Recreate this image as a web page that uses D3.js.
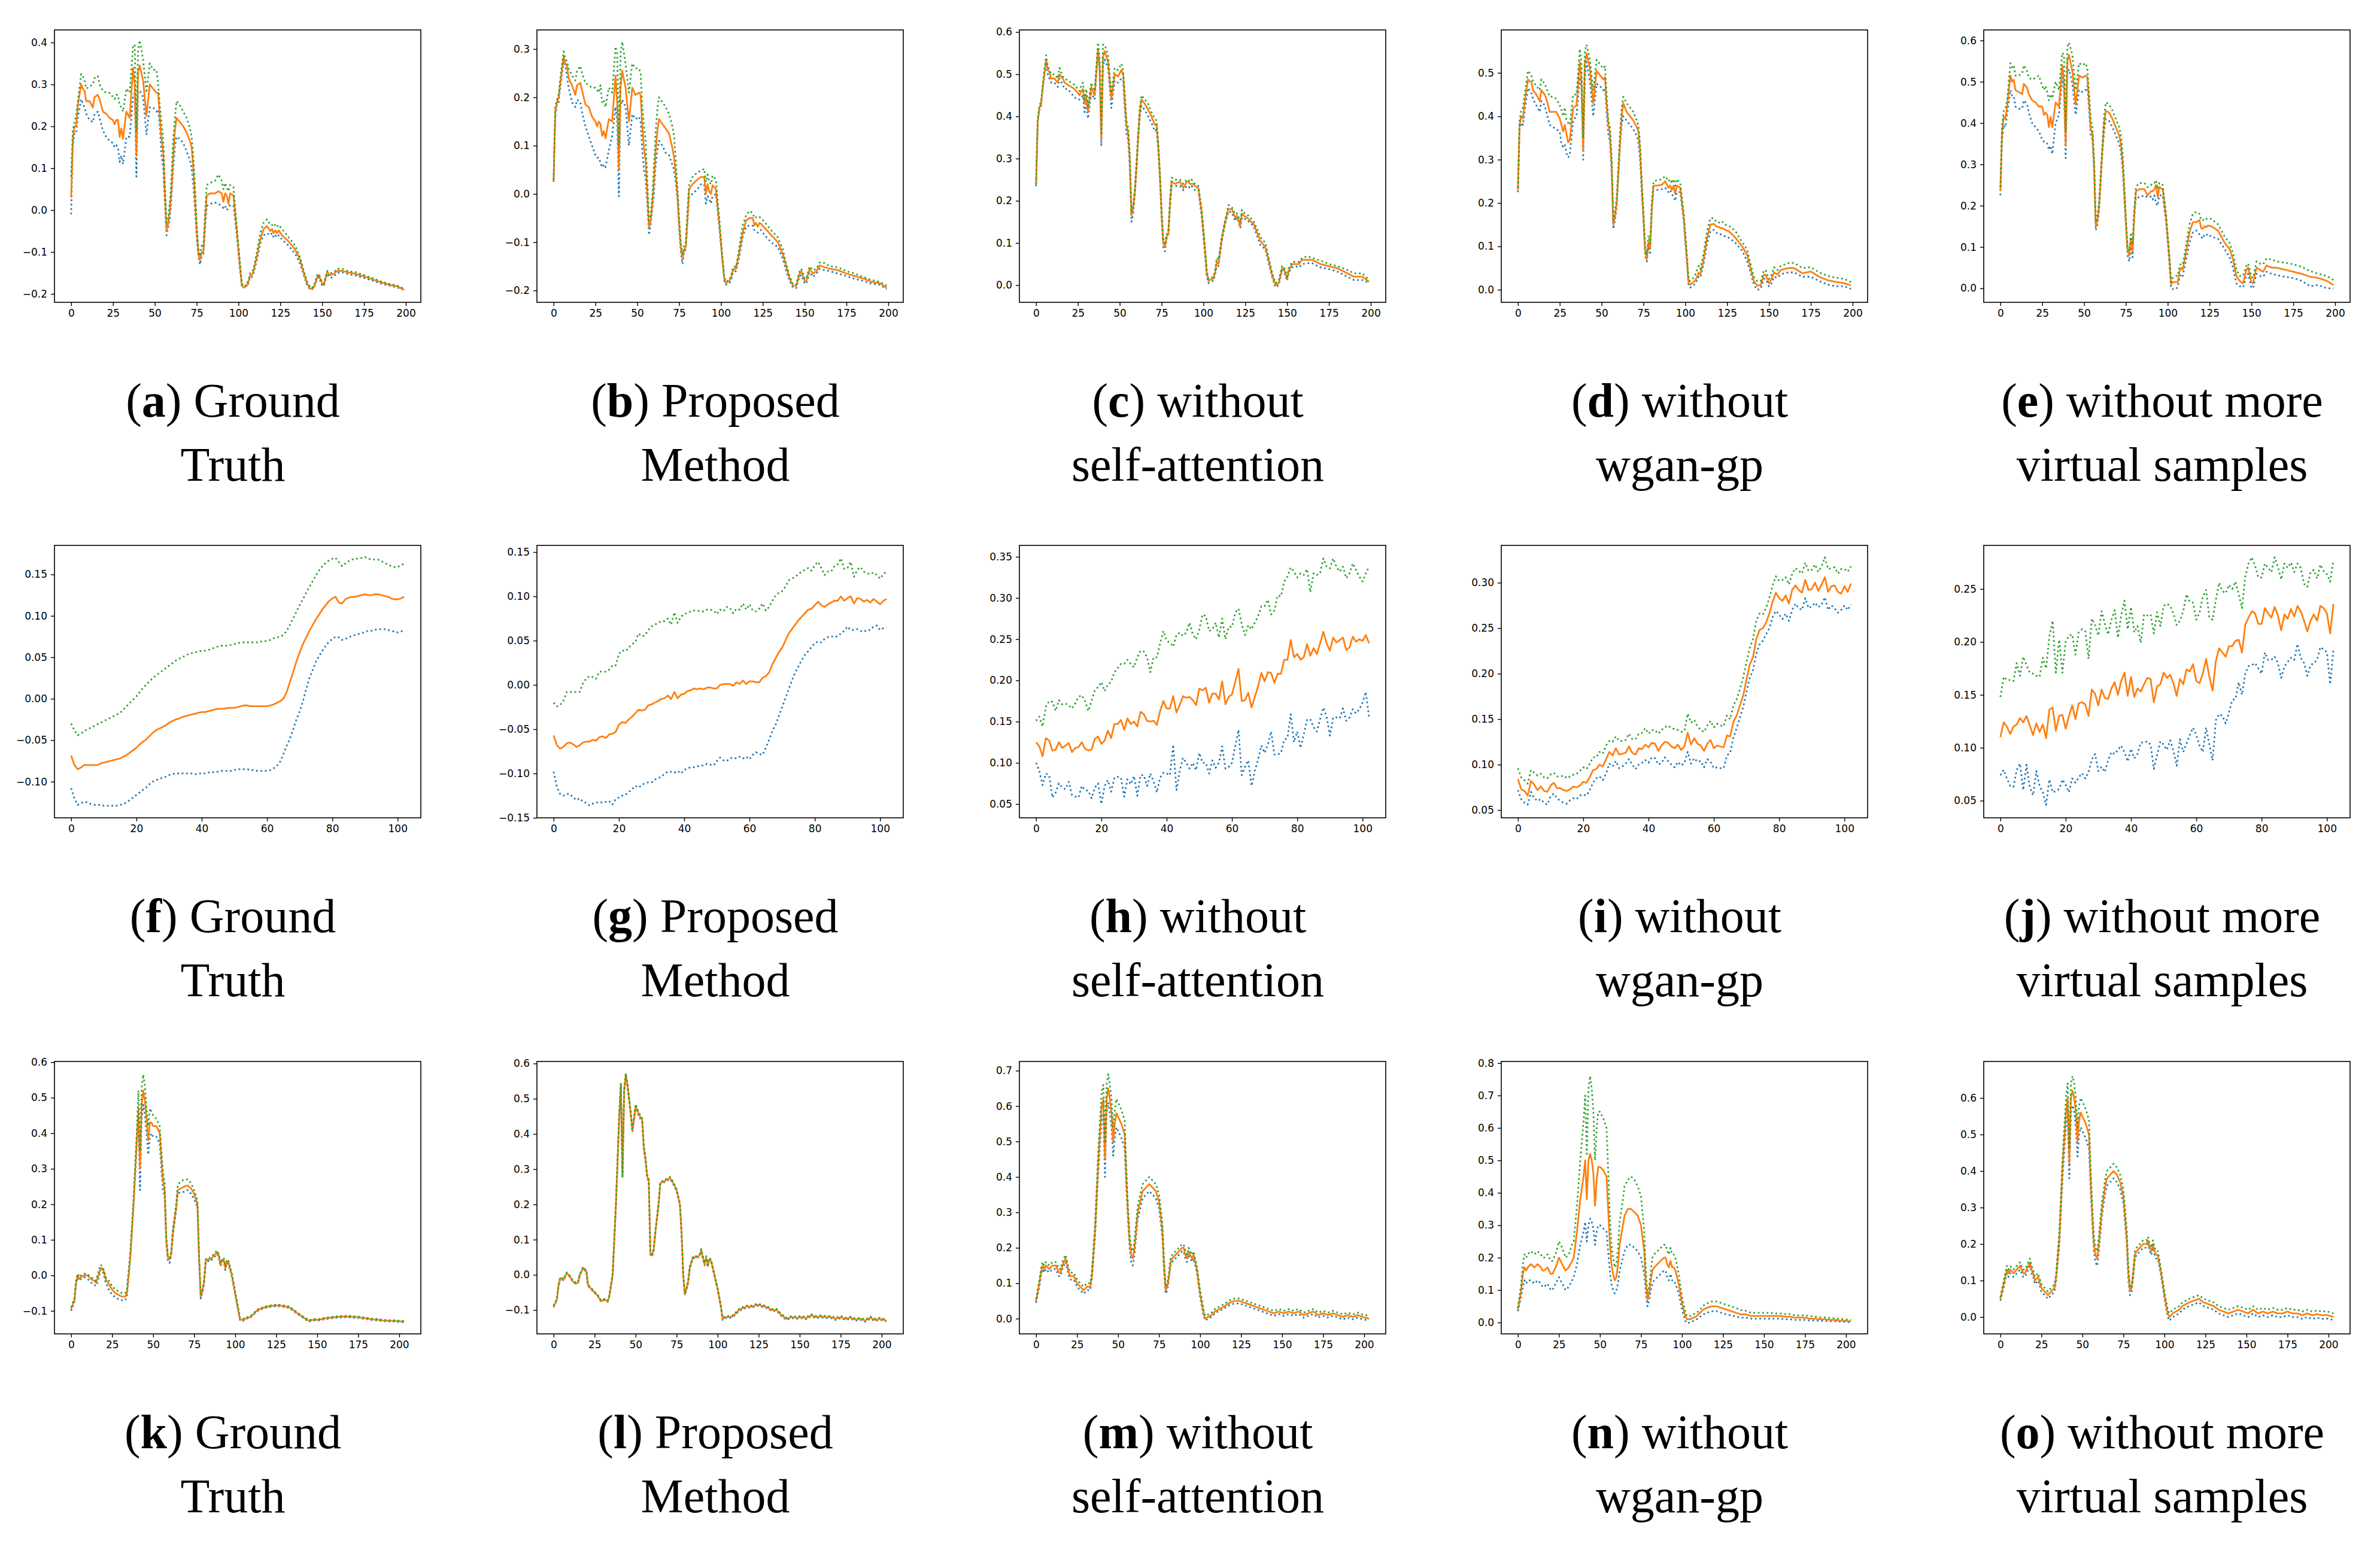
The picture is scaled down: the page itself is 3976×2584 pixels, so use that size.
<!DOCTYPE html>
<html>
<head>
<meta charset="utf-8">
<script src="https://cdn.jsdelivr.net/npm/d3@7"></script>
<style>
  body { margin: 0; background: #fff; }
  svg text { fill: #000; }
</style>
</head>
<body>
<svg id="fig"></svg>
<script>
// ---- x positions (sample indices) ----
const row1X = [0,1,2,3,4,6,7,8,9,11,
  13,14,16,17,19,21,23,25,26,27,
  28,29,30,31,33,35,37,38,39,40,
  41,43,45,47,49,51,52,53,54,55,
  56,57,58,59,60,61,62,63,65,67,
  69,71,72,73,74,75,76,77,78,79,
  80,81,83,86,88,90,91,92,93,94,
  95,97,99,101,102,103,105,106,107,108,
  109,111,113,115,117,119,120,121,122,123,
  124,126,130,134,137,139,141,143,145,147,
  148,150,151,153,155,157,159,162,165,170,
  175,180,185,190,195,199]
const row2X = d3.range(0, 103)
const row3X = [0,2,3,4,5,6,8,10,12,14,
  15,16,18,19,20,21,23,25,27,29,
  31,33,34,36,38,40,41,42,43,44,
  45,46,47,48,49,50,52,54,55,56,
  57,58,59,60,61,62,64,65,67,69,
  71,73,75,77,78,79,80,81,82,83,
  85,87,89,90,91,92,93,94,95,96,
  98,100,102,103,105,107,109,111,113,115,
  118,121,124,127,130,133,136,139,142,145,
  148,151,154,157,160,163,166,169,172,175,
  178,181,184,187,190,193,196,199,203]

// ---- row 1 ----
const aBlue = [-0.01,0.15,0.185,0.185,0.22,0.265,0.255,0.245,0.23,0.215,
  0.21,0.23,0.235,0.22,0.19,0.175,0.165,0.16,0.15,0.155,
  0.15,0.115,0.13,0.11,0.175,0.175,0.27,0.28,0.08,0.28,
  0.285,0.27,0.18,0.245,0.245,0.235,0.24,0.20,0.13,0.10,
  0.02,-0.06,-0.04,-0.02,0.03,0.10,0.15,0.175,0.17,0.16,
  0.14,0.12,0.10,0.06,0.0,-0.06,-0.11,-0.13,-0.11,-0.105,
  -0.05,0.01,0.015,0.018,0.015,0.01,0.005,0.01,0.0,0.005,
  0.012,0.01,-0.06,-0.145,-0.18,-0.185,-0.18,-0.175,-0.16,-0.16,
  -0.15,-0.12,-0.08,-0.06,-0.055,-0.06,-0.055,-0.065,-0.06,-0.065,
  -0.06,-0.07,-0.085,-0.105,-0.13,-0.155,-0.18,-0.19,-0.187,-0.165,
  -0.16,-0.18,-0.182,-0.152,-0.162,-0.158,-0.15,-0.148,-0.152,-0.156,
  -0.162,-0.168,-0.175,-0.18,-0.185,-0.19]
const aOrange = [0.03,0.17,0.20,0.20,0.25,0.30,0.29,0.285,0.26,0.26,
  0.245,0.27,0.275,0.265,0.235,0.23,0.22,0.215,0.205,0.215,
  0.215,0.175,0.195,0.17,0.235,0.22,0.34,0.30,0.13,0.33,
  0.345,0.31,0.225,0.30,0.29,0.28,0.28,0.22,0.17,0.14,
  0.04,-0.05,-0.03,0.0,0.05,0.13,0.19,0.22,0.21,0.20,
  0.185,0.165,0.15,0.10,0.03,-0.05,-0.10,-0.12,-0.10,-0.10,
  -0.03,0.035,0.04,0.04,0.045,0.04,0.02,0.04,0.035,0.015,
  0.04,0.035,-0.05,-0.14,-0.18,-0.185,-0.18,-0.17,-0.155,-0.155,
  -0.145,-0.11,-0.07,-0.045,-0.038,-0.05,-0.045,-0.055,-0.048,-0.055,
  -0.048,-0.06,-0.075,-0.095,-0.12,-0.15,-0.175,-0.188,-0.185,-0.16,
  -0.155,-0.175,-0.178,-0.148,-0.155,-0.152,-0.145,-0.145,-0.148,-0.152,
  -0.158,-0.165,-0.172,-0.178,-0.182,-0.19]
const aGreen = [0.08,0.19,0.21,0.225,0.26,0.325,0.32,0.31,0.29,0.295,
  0.30,0.315,0.32,0.30,0.285,0.28,0.28,0.27,0.265,0.275,
  0.275,0.25,0.245,0.235,0.29,0.28,0.39,0.395,0.19,0.38,
  0.405,0.36,0.28,0.35,0.335,0.335,0.30,0.25,0.21,0.17,
  0.07,-0.03,-0.02,0.02,0.08,0.17,0.22,0.26,0.25,0.235,
  0.22,0.195,0.175,0.13,0.06,-0.03,-0.09,-0.11,-0.085,-0.09,
  -0.01,0.06,0.065,0.07,0.085,0.07,0.05,0.065,0.055,0.045,
  0.06,0.055,-0.04,-0.13,-0.175,-0.182,-0.178,-0.165,-0.15,-0.148,
  -0.14,-0.1,-0.055,-0.03,-0.022,-0.035,-0.035,-0.04,-0.035,-0.04,
  -0.035,-0.045,-0.065,-0.085,-0.115,-0.145,-0.17,-0.185,-0.183,-0.155,
  -0.152,-0.172,-0.175,-0.145,-0.15,-0.148,-0.14,-0.14,-0.145,-0.148,
  -0.155,-0.162,-0.17,-0.176,-0.18,-0.188]

const bBlue = [0.025,0.16,0.185,0.19,0.22,0.275,0.265,0.245,0.22,0.19,
  0.18,0.195,0.19,0.17,0.14,0.12,0.10,0.08,0.075,0.075,
  0.065,0.055,0.06,0.055,0.09,0.12,0.18,0.15,-0.005,0.18,
  0.195,0.18,0.10,0.165,0.155,0.16,0.15,0.09,0.05,0.03,
  -0.02,-0.085,-0.065,-0.03,0.0,0.06,0.09,0.11,0.10,0.085,
  0.08,0.06,0.05,0.02,-0.01,-0.07,-0.12,-0.145,-0.12,-0.115,
  -0.06,-0.005,0.0,0.01,0.02,0.02,-0.02,-0.005,-0.01,-0.02,
  -0.005,0.0,-0.07,-0.145,-0.18,-0.188,-0.185,-0.18,-0.165,-0.16,
  -0.16,-0.13,-0.09,-0.068,-0.065,-0.066,-0.075,-0.078,-0.08,-0.075,
  -0.075,-0.085,-0.1,-0.11,-0.135,-0.16,-0.18,-0.193,-0.195,-0.17,
  -0.168,-0.185,-0.186,-0.162,-0.172,-0.165,-0.155,-0.158,-0.16,-0.165,
  -0.17,-0.176,-0.18,-0.186,-0.188,-0.197]
const bOrange = [0.026,0.17,0.19,0.20,0.23,0.285,0.27,0.265,0.24,0.225,
  0.205,0.225,0.23,0.215,0.185,0.18,0.16,0.15,0.14,0.15,
  0.145,0.12,0.13,0.115,0.155,0.15,0.245,0.19,0.05,0.22,
  0.255,0.22,0.15,0.22,0.205,0.21,0.205,0.14,0.095,0.07,
  0.0,-0.07,-0.055,-0.02,0.03,0.09,0.13,0.155,0.145,0.135,
  0.125,0.095,0.075,0.04,0.0,-0.06,-0.11,-0.135,-0.115,-0.11,
  -0.05,0.01,0.02,0.03,0.035,0.035,0.0,0.02,0.005,0.0,
  0.018,0.01,-0.06,-0.14,-0.175,-0.185,-0.18,-0.175,-0.16,-0.155,
  -0.155,-0.12,-0.08,-0.055,-0.05,-0.05,-0.065,-0.06,-0.068,-0.06,
  -0.062,-0.07,-0.085,-0.1,-0.125,-0.15,-0.175,-0.19,-0.19,-0.165,
  -0.16,-0.18,-0.18,-0.155,-0.165,-0.16,-0.148,-0.152,-0.155,-0.158,
  -0.165,-0.17,-0.175,-0.182,-0.185,-0.195]
const bGreen = [0.03,0.18,0.195,0.205,0.24,0.295,0.28,0.275,0.26,0.245,
  0.235,0.255,0.265,0.25,0.23,0.225,0.22,0.22,0.215,0.21,
  0.225,0.19,0.195,0.18,0.22,0.21,0.305,0.29,0.10,0.29,
  0.315,0.27,0.21,0.27,0.26,0.26,0.25,0.18,0.14,0.11,
  0.03,-0.055,-0.045,-0.005,0.06,0.13,0.175,0.20,0.19,0.18,
  0.165,0.14,0.12,0.07,0.015,-0.05,-0.10,-0.125,-0.105,-0.1,
  -0.035,0.02,0.035,0.045,0.048,0.052,0.025,0.04,0.025,0.02,
  0.038,0.03,-0.05,-0.135,-0.172,-0.182,-0.178,-0.17,-0.155,-0.15,
  -0.152,-0.11,-0.065,-0.045,-0.035,-0.04,-0.05,-0.048,-0.05,-0.048,
  -0.05,-0.058,-0.075,-0.09,-0.115,-0.145,-0.17,-0.187,-0.188,-0.16,
  -0.155,-0.175,-0.176,-0.15,-0.158,-0.155,-0.142,-0.143,-0.15,-0.152,
  -0.16,-0.165,-0.172,-0.178,-0.182,-0.19]

const cBlue = [0.235,0.385,0.415,0.425,0.465,0.525,0.50,0.49,0.48,0.48,
  0.47,0.49,0.475,0.465,0.465,0.455,0.445,0.44,0.44,0.445,
  0.45,0.41,0.43,0.395,0.455,0.44,0.55,0.50,0.33,0.52,
  0.535,0.515,0.42,0.485,0.48,0.49,0.485,0.42,0.36,0.345,
  0.28,0.15,0.17,0.21,0.27,0.34,0.40,0.425,0.415,0.40,
  0.385,0.365,0.37,0.32,0.25,0.16,0.09,0.08,0.11,0.115,
  0.18,0.235,0.235,0.235,0.225,0.235,0.235,0.23,0.235,0.23,
  0.225,0.225,0.16,0.07,0.02,0.005,0.01,0.01,0.025,0.045,
  0.045,0.105,0.145,0.175,0.172,0.152,0.16,0.15,0.135,0.16,
  0.158,0.155,0.14,0.095,0.085,0.052,0.02,-0.005,0.0,0.035,
  0.035,0.01,0.03,0.042,0.045,0.042,0.05,0.052,0.052,0.042,
  0.038,0.032,0.022,0.012,0.012,0.005]
const cOrange = [0.24,0.39,0.42,0.43,0.47,0.535,0.51,0.505,0.49,0.49,
  0.48,0.50,0.49,0.48,0.475,0.47,0.465,0.455,0.45,0.46,
  0.465,0.43,0.45,0.41,0.47,0.45,0.56,0.52,0.345,0.54,
  0.555,0.53,0.44,0.50,0.495,0.51,0.50,0.44,0.38,0.36,
  0.30,0.165,0.18,0.22,0.28,0.35,0.41,0.44,0.43,0.415,
  0.40,0.38,0.38,0.33,0.26,0.17,0.10,0.09,0.115,0.12,
  0.19,0.245,0.24,0.245,0.23,0.245,0.245,0.24,0.24,0.24,
  0.235,0.23,0.17,0.08,0.03,0.01,0.015,0.015,0.03,0.055,
  0.05,0.11,0.15,0.18,0.18,0.16,0.165,0.155,0.14,0.17,
  0.165,0.16,0.145,0.105,0.09,0.06,0.025,0.0,0.005,0.04,
  0.04,0.015,0.035,0.05,0.05,0.05,0.06,0.06,0.06,0.05,
  0.045,0.04,0.03,0.02,0.02,0.008]
const cGreen = [0.24,0.395,0.425,0.435,0.475,0.545,0.52,0.51,0.50,0.50,
  0.49,0.515,0.495,0.49,0.485,0.48,0.475,0.465,0.46,0.475,
  0.48,0.44,0.465,0.425,0.48,0.46,0.575,0.535,0.36,0.57,
  0.57,0.545,0.455,0.515,0.51,0.525,0.51,0.455,0.39,0.375,
  0.31,0.175,0.19,0.23,0.29,0.36,0.42,0.45,0.44,0.43,
  0.41,0.395,0.39,0.34,0.27,0.18,0.11,0.10,0.12,0.125,
  0.2,0.255,0.25,0.25,0.24,0.25,0.25,0.245,0.25,0.245,
  0.24,0.235,0.18,0.09,0.035,0.015,0.018,0.02,0.035,0.065,
  0.06,0.115,0.155,0.19,0.185,0.168,0.17,0.162,0.148,0.178,
  0.172,0.168,0.152,0.115,0.1,0.065,0.03,0.005,0.01,0.045,
  0.045,0.02,0.04,0.055,0.055,0.055,0.065,0.068,0.065,0.058,
  0.05,0.045,0.038,0.028,0.028,0.012]

const dBlue = [0.225,0.37,0.385,0.38,0.41,0.465,0.46,0.455,0.44,0.425,
  0.41,0.435,0.425,0.41,0.38,0.375,0.37,0.365,0.335,0.33,
  0.335,0.315,0.305,0.31,0.39,0.40,0.49,0.46,0.30,0.49,
  0.525,0.48,0.40,0.475,0.47,0.46,0.465,0.41,0.36,0.34,
  0.27,0.14,0.16,0.19,0.26,0.33,0.38,0.40,0.39,0.38,
  0.37,0.355,0.34,0.30,0.22,0.16,0.08,0.065,0.1,0.085,
  0.18,0.23,0.23,0.232,0.235,0.225,0.23,0.22,0.215,0.205,
  0.225,0.225,0.16,0.06,0.01,0.005,0.01,0.015,0.022,0.03,
  0.028,0.06,0.105,0.135,0.138,0.13,0.128,0.128,0.126,0.125,
  0.122,0.12,0.108,0.09,0.065,0.04,0.012,0.0,0.002,0.025,
  0.025,0.008,0.01,0.03,0.028,0.035,0.038,0.04,0.04,0.03,
  0.03,0.02,0.012,0.008,0.008,0.002]
const dOrange = [0.23,0.38,0.40,0.395,0.43,0.485,0.48,0.48,0.46,0.45,
  0.435,0.46,0.45,0.44,0.41,0.41,0.41,0.395,0.38,0.365,
  0.38,0.36,0.34,0.345,0.42,0.425,0.525,0.48,0.32,0.52,
  0.545,0.51,0.43,0.505,0.495,0.485,0.49,0.43,0.38,0.36,
  0.29,0.15,0.17,0.20,0.27,0.34,0.40,0.43,0.41,0.40,
  0.39,0.375,0.365,0.32,0.24,0.17,0.09,0.07,0.11,0.095,
  0.19,0.24,0.24,0.242,0.25,0.235,0.24,0.23,0.24,0.22,
  0.24,0.235,0.17,0.07,0.015,0.012,0.018,0.022,0.03,0.04,
  0.035,0.07,0.12,0.15,0.152,0.145,0.145,0.142,0.142,0.14,
  0.138,0.135,0.12,0.1,0.08,0.05,0.02,0.01,0.01,0.035,
  0.035,0.015,0.02,0.04,0.035,0.045,0.048,0.05,0.05,0.038,
  0.042,0.03,0.022,0.018,0.015,0.01]
const dGreen = [0.235,0.39,0.415,0.42,0.45,0.505,0.50,0.495,0.48,0.47,
  0.46,0.485,0.475,0.465,0.445,0.445,0.44,0.425,0.415,0.40,
  0.42,0.39,0.385,0.38,0.45,0.45,0.555,0.52,0.35,0.55,
  0.565,0.53,0.46,0.53,0.52,0.51,0.515,0.45,0.39,0.375,
  0.30,0.16,0.18,0.21,0.28,0.36,0.42,0.445,0.43,0.42,
  0.41,0.39,0.38,0.335,0.25,0.18,0.1,0.08,0.125,0.105,
  0.2,0.25,0.252,0.255,0.262,0.25,0.255,0.245,0.255,0.24,
  0.255,0.245,0.18,0.08,0.022,0.02,0.028,0.035,0.045,0.055,
  0.048,0.085,0.135,0.165,0.165,0.155,0.155,0.155,0.158,0.152,
  0.15,0.148,0.135,0.11,0.092,0.06,0.03,0.02,0.02,0.045,
  0.045,0.025,0.028,0.052,0.045,0.055,0.058,0.062,0.062,0.05,
  0.052,0.04,0.032,0.028,0.025,0.018]

const eBlue = [0.225,0.36,0.395,0.39,0.42,0.48,0.465,0.465,0.44,0.435,
  0.435,0.455,0.445,0.425,0.40,0.39,0.38,0.36,0.355,0.355,
  0.35,0.335,0.345,0.325,0.40,0.42,0.51,0.48,0.315,0.52,
  0.53,0.495,0.42,0.48,0.475,0.48,0.49,0.43,0.37,0.36,
  0.28,0.14,0.155,0.19,0.26,0.33,0.38,0.41,0.405,0.39,
  0.37,0.35,0.33,0.29,0.22,0.15,0.08,0.065,0.1,0.075,
  0.17,0.22,0.22,0.225,0.22,0.222,0.215,0.225,0.205,0.2,
  0.225,0.225,0.16,0.06,0.0,-0.002,-0.002,0.005,0.025,0.035,
  0.03,0.07,0.11,0.135,0.14,0.13,0.125,0.12,0.13,0.128,
  0.132,0.125,0.12,0.095,0.075,0.05,0.012,0.005,0.002,0.03,
  0.035,0.002,0.0,0.035,0.03,0.028,0.04,0.035,0.032,0.028,
  0.025,0.018,0.005,0.008,0.0,0.0]
const eOrange = [0.235,0.38,0.415,0.41,0.44,0.515,0.50,0.505,0.48,0.475,
  0.47,0.495,0.485,0.47,0.455,0.45,0.44,0.44,0.42,0.425,
  0.42,0.39,0.415,0.39,0.45,0.44,0.54,0.50,0.345,0.55,
  0.565,0.525,0.445,0.515,0.51,0.515,0.51,0.45,0.385,0.375,
  0.30,0.15,0.165,0.20,0.27,0.34,0.40,0.43,0.425,0.41,
  0.39,0.37,0.35,0.31,0.24,0.16,0.09,0.08,0.12,0.09,
  0.18,0.235,0.24,0.24,0.225,0.235,0.235,0.24,0.25,0.22,
  0.245,0.24,0.17,0.07,0.01,0.015,0.015,0.015,0.04,0.05,
  0.045,0.09,0.135,0.16,0.16,0.165,0.145,0.145,0.15,0.148,
  0.152,0.15,0.14,0.11,0.095,0.07,0.03,0.018,0.012,0.045,
  0.05,0.015,0.012,0.05,0.045,0.04,0.055,0.05,0.05,0.045,
  0.04,0.035,0.028,0.025,0.018,0.008]
const eGreen = [0.245,0.395,0.43,0.435,0.455,0.545,0.535,0.54,0.515,0.515,
  0.52,0.54,0.525,0.51,0.505,0.51,0.515,0.49,0.48,0.49,
  0.475,0.455,0.47,0.46,0.50,0.48,0.57,0.565,0.38,0.585,
  0.595,0.565,0.48,0.545,0.54,0.545,0.53,0.47,0.41,0.39,
  0.31,0.16,0.175,0.21,0.28,0.35,0.42,0.45,0.445,0.43,
  0.41,0.39,0.37,0.33,0.25,0.17,0.1,0.09,0.135,0.11,
  0.19,0.245,0.255,0.255,0.245,0.25,0.255,0.255,0.262,0.24,
  0.255,0.25,0.18,0.08,0.015,0.025,0.03,0.03,0.055,0.06,
  0.058,0.105,0.155,0.18,0.185,0.18,0.165,0.165,0.17,0.168,
  0.17,0.168,0.155,0.125,0.11,0.085,0.045,0.03,0.03,0.055,
  0.06,0.028,0.025,0.065,0.06,0.058,0.072,0.07,0.065,0.062,
  0.058,0.052,0.042,0.035,0.03,0.02]

// ---- row 2 ----
const fBlue = [-0.108,-0.12,-0.128,-0.126,-0.124,-0.125,-0.127,-0.128,-0.128,-0.128,
  -0.129,-0.129,-0.129,-0.129,-0.129,-0.128,-0.127,-0.125,-0.122,-0.119,
  -0.116,-0.113,-0.11,-0.107,-0.103,-0.1,-0.098,-0.097,-0.095,-0.094,
  -0.092,-0.091,-0.09,-0.09,-0.09,-0.09,-0.09,-0.09,-0.091,-0.09,
  -0.09,-0.09,-0.089,-0.089,-0.088,-0.088,-0.087,-0.087,-0.087,-0.087,
  -0.086,-0.085,-0.085,-0.085,-0.085,-0.086,-0.086,-0.087,-0.087,-0.087,
  -0.087,-0.086,-0.084,-0.081,-0.076,-0.067,-0.057,-0.048,-0.037,-0.025,
  -0.015,-0.003,0.012,0.025,0.035,0.045,0.052,0.058,0.064,0.069,
  0.072,0.075,0.074,0.071,0.072,0.074,0.076,0.077,0.078,0.079,
  0.081,0.082,0.082,0.083,0.084,0.084,0.084,0.083,0.082,0.081,
  0.08,0.081,0.083]
const fOrange = [-0.0685,-0.08,-0.085,-0.083,-0.08,-0.08,-0.08,-0.08,-0.08,-0.078,
  -0.077,-0.076,-0.075,-0.074,-0.073,-0.072,-0.07,-0.068,-0.065,-0.062,
  -0.059,-0.055,-0.052,-0.049,-0.045,-0.041,-0.038,-0.036,-0.034,-0.032,
  -0.029,-0.027,-0.025,-0.024,-0.022,-0.021,-0.02,-0.019,-0.018,-0.017,
  -0.016,-0.016,-0.015,-0.014,-0.013,-0.012,-0.012,-0.012,-0.011,-0.011,
  -0.011,-0.01,-0.009,-0.008,-0.008,-0.009,-0.009,-0.009,-0.009,-0.009,
  -0.009,-0.008,-0.007,-0.005,-0.003,0.0,0.008,0.02,0.032,0.045,
  0.056,0.066,0.074,0.082,0.089,0.096,0.102,0.108,0.113,0.118,
  0.121,0.123,0.116,0.115,0.12,0.122,0.123,0.123,0.124,0.125,
  0.126,0.125,0.125,0.126,0.126,0.125,0.124,0.123,0.121,0.12,
  0.12,0.121,0.123]
const fGreen = [-0.03,-0.038,-0.044,-0.042,-0.039,-0.037,-0.035,-0.033,-0.031,-0.029,
  -0.027,-0.025,-0.023,-0.021,-0.019,-0.017,-0.013,-0.009,-0.005,-0.001,
  0.003,0.008,0.013,0.017,0.021,0.025,0.028,0.031,0.034,0.037,
  0.04,0.043,0.046,0.048,0.05,0.052,0.054,0.055,0.056,0.057,
  0.058,0.058,0.059,0.06,0.062,0.063,0.064,0.064,0.064,0.065,
  0.066,0.067,0.068,0.068,0.068,0.068,0.068,0.068,0.069,0.069,
  0.07,0.071,0.073,0.074,0.075,0.077,0.082,0.089,0.097,0.105,
  0.113,0.12,0.128,0.135,0.142,0.149,0.155,0.16,0.164,0.167,
  0.169,0.17,0.165,0.16,0.163,0.166,0.168,0.169,0.169,0.17,
  0.171,0.169,0.168,0.168,0.168,0.166,0.164,0.162,0.16,0.159,
  0.159,0.161,0.163]

const gBlue = [-0.098,-0.115,-0.123,-0.125,-0.123,-0.123,-0.127,-0.13,-0.128,-0.132,
  -0.133,-0.136,-0.134,-0.133,-0.132,-0.133,-0.132,-0.131,-0.135,-0.129,
  -0.127,-0.125,-0.124,-0.121,-0.118,-0.114,-0.116,-0.113,-0.111,-0.11,
  -0.11,-0.107,-0.105,-0.104,-0.1,-0.098,-0.098,-0.099,-0.097,-0.1,
  -0.096,-0.094,-0.093,-0.093,-0.092,-0.091,-0.091,-0.089,-0.09,-0.091,
  -0.086,-0.082,-0.085,-0.086,-0.083,-0.082,-0.083,-0.081,-0.083,-0.081,
  -0.084,-0.079,-0.076,-0.078,-0.079,-0.071,-0.062,-0.052,-0.045,-0.035,
  -0.025,-0.015,-0.005,0.005,0.014,0.021,0.028,0.034,0.038,0.043,
  0.047,0.049,0.048,0.052,0.054,0.055,0.054,0.055,0.058,0.061,
  0.066,0.062,0.062,0.063,0.061,0.06,0.062,0.062,0.066,0.067,
  0.062,0.064,0.064]
const gOrange = [-0.057,-0.068,-0.072,-0.07,-0.066,-0.065,-0.067,-0.07,-0.068,-0.065,
  -0.064,-0.064,-0.062,-0.063,-0.059,-0.058,-0.06,-0.056,-0.055,-0.053,
  -0.045,-0.042,-0.043,-0.039,-0.036,-0.032,-0.028,-0.029,-0.028,-0.023,
  -0.022,-0.02,-0.018,-0.016,-0.015,-0.012,-0.016,-0.008,-0.015,-0.011,
  -0.01,-0.007,-0.006,-0.004,-0.005,-0.004,-0.005,-0.003,-0.003,-0.004,
  -0.004,0.0,0.001,0.001,0.001,-0.001,0.003,0.001,0.005,0.001,
  0.004,0.004,0.003,0.003,0.008,0.01,0.014,0.023,0.03,0.037,
  0.042,0.05,0.058,0.063,0.068,0.073,0.077,0.081,0.085,0.086,
  0.09,0.094,0.09,0.088,0.091,0.093,0.095,0.095,0.1,0.095,
  0.098,0.1,0.092,0.098,0.097,0.094,0.096,0.093,0.097,0.094,
  0.091,0.095,0.097]
const gGreen = [-0.02,-0.024,-0.023,-0.018,-0.008,-0.008,-0.008,-0.008,-0.008,0.002,
  0.007,0.01,0.009,0.007,0.015,0.015,0.015,0.017,0.022,0.022,
  0.035,0.039,0.038,0.042,0.046,0.048,0.058,0.055,0.056,0.062,
  0.066,0.068,0.07,0.072,0.072,0.075,0.068,0.082,0.07,0.077,
  0.08,0.081,0.083,0.084,0.084,0.083,0.083,0.085,0.085,0.084,
  0.08,0.085,0.083,0.088,0.087,0.081,0.086,0.085,0.092,0.085,
  0.091,0.084,0.083,0.086,0.092,0.084,0.088,0.095,0.101,0.104,
  0.106,0.111,0.118,0.12,0.122,0.125,0.128,0.13,0.132,0.129,
  0.135,0.139,0.132,0.124,0.128,0.128,0.134,0.136,0.143,0.131,
  0.132,0.139,0.122,0.13,0.133,0.128,0.126,0.125,0.127,0.124,
  0.12,0.125,0.128]

const hBlue = [0.1,0.09,0.073,0.087,0.085,0.058,0.064,0.075,0.07,0.068,
  0.077,0.061,0.059,0.058,0.072,0.067,0.066,0.057,0.07,0.075,
  0.05,0.072,0.079,0.065,0.082,0.083,0.082,0.059,0.08,0.074,
  0.084,0.06,0.085,0.085,0.072,0.087,0.078,0.064,0.082,0.088,
  0.087,0.085,0.122,0.067,0.09,0.106,0.1,0.093,0.1,0.091,
  0.112,0.1,0.1,0.087,0.103,0.094,0.1,0.12,0.093,0.095,
  0.1,0.12,0.14,0.085,0.095,0.103,0.072,0.09,0.104,0.121,
  0.112,0.122,0.138,0.11,0.11,0.112,0.128,0.13,0.159,0.125,
  0.138,0.118,0.135,0.152,0.153,0.143,0.138,0.153,0.167,0.156,
  0.133,0.155,0.155,0.154,0.166,0.151,0.155,0.165,0.16,0.165,
  0.173,0.186,0.155]
const hOrange = [0.125,0.12,0.108,0.13,0.127,0.115,0.116,0.125,0.118,0.121,
  0.124,0.113,0.118,0.119,0.125,0.117,0.115,0.116,0.129,0.132,
  0.123,0.127,0.139,0.13,0.147,0.147,0.152,0.14,0.154,0.147,
  0.15,0.144,0.162,0.159,0.151,0.15,0.151,0.146,0.163,0.175,
  0.166,0.166,0.181,0.161,0.17,0.181,0.179,0.18,0.176,0.17,
  0.19,0.188,0.191,0.173,0.184,0.184,0.177,0.199,0.171,0.18,
  0.183,0.198,0.214,0.175,0.176,0.185,0.167,0.18,0.193,0.209,
  0.199,0.21,0.209,0.197,0.208,0.208,0.225,0.225,0.249,0.228,
  0.232,0.225,0.228,0.244,0.23,0.239,0.232,0.245,0.259,0.245,
  0.236,0.252,0.246,0.249,0.252,0.237,0.24,0.253,0.247,0.25,
  0.248,0.255,0.245]
const hGreen = [0.151,0.156,0.144,0.168,0.175,0.174,0.163,0.176,0.171,0.172,
  0.17,0.166,0.172,0.18,0.182,0.175,0.163,0.175,0.188,0.192,
  0.198,0.187,0.195,0.198,0.21,0.215,0.22,0.22,0.225,0.22,
  0.216,0.228,0.236,0.235,0.228,0.21,0.228,0.228,0.245,0.26,
  0.248,0.246,0.241,0.255,0.258,0.254,0.258,0.27,0.256,0.25,
  0.262,0.28,0.278,0.26,0.262,0.27,0.252,0.275,0.25,0.265,
  0.265,0.282,0.287,0.268,0.255,0.267,0.262,0.27,0.278,0.29,
  0.29,0.298,0.28,0.285,0.303,0.302,0.32,0.326,0.337,0.332,
  0.325,0.33,0.328,0.335,0.307,0.33,0.328,0.33,0.348,0.338,
  0.336,0.348,0.338,0.332,0.338,0.324,0.33,0.342,0.334,0.326,
  0.32,0.33,0.338]

const iBlue = [0.072,0.062,0.058,0.056,0.07,0.063,0.06,0.062,0.058,0.056,
  0.065,0.068,0.063,0.06,0.058,0.057,0.061,0.063,0.062,0.066,
  0.067,0.066,0.072,0.08,0.085,0.087,0.083,0.09,0.101,0.098,
  0.104,0.096,0.098,0.101,0.106,0.1,0.095,0.1,0.102,0.105,
  0.102,0.108,0.107,0.1,0.102,0.108,0.104,0.1,0.097,0.103,
  0.099,0.102,0.114,0.101,0.107,0.103,0.104,0.097,0.106,0.103,
  0.096,0.097,0.096,0.096,0.11,0.113,0.13,0.14,0.152,0.163,
  0.18,0.195,0.204,0.222,0.232,0.236,0.243,0.25,0.262,0.269,
  0.265,0.26,0.266,0.258,0.27,0.277,0.272,0.27,0.283,0.272,
  0.274,0.278,0.273,0.276,0.284,0.27,0.275,0.272,0.267,0.27,
  0.275,0.27,0.276]
const iOrange = [0.084,0.073,0.071,0.066,0.082,0.078,0.072,0.076,0.071,0.07,
  0.077,0.08,0.074,0.074,0.072,0.071,0.073,0.076,0.075,0.077,
  0.081,0.08,0.086,0.094,0.095,0.1,0.098,0.106,0.114,0.11,
  0.118,0.111,0.112,0.113,0.12,0.113,0.111,0.118,0.117,0.122,
  0.119,0.124,0.123,0.115,0.121,0.125,0.124,0.12,0.118,0.122,
  0.116,0.12,0.135,0.122,0.129,0.123,0.121,0.115,0.123,0.127,
  0.118,0.121,0.12,0.119,0.132,0.131,0.147,0.154,0.165,0.176,
  0.193,0.21,0.218,0.238,0.248,0.25,0.256,0.266,0.279,0.289,
  0.283,0.28,0.286,0.277,0.292,0.297,0.292,0.289,0.303,0.292,
  0.293,0.3,0.291,0.298,0.306,0.29,0.296,0.297,0.29,0.288,
  0.296,0.29,0.299]
const iGreen = [0.096,0.086,0.083,0.079,0.094,0.091,0.088,0.09,0.086,0.085,
  0.089,0.091,0.087,0.087,0.088,0.085,0.087,0.089,0.09,0.093,
  0.097,0.095,0.101,0.108,0.108,0.114,0.112,0.121,0.126,0.125,
  0.131,0.126,0.126,0.127,0.134,0.128,0.128,0.134,0.135,0.14,
  0.134,0.138,0.138,0.134,0.138,0.141,0.143,0.14,0.139,0.138,
  0.136,0.137,0.156,0.146,0.149,0.142,0.138,0.136,0.143,0.148,
  0.141,0.145,0.143,0.142,0.154,0.15,0.165,0.172,0.183,0.196,
  0.213,0.228,0.238,0.258,0.266,0.265,0.272,0.283,0.297,0.307,
  0.302,0.303,0.306,0.298,0.31,0.316,0.313,0.31,0.322,0.313,
  0.314,0.32,0.312,0.318,0.328,0.315,0.316,0.317,0.31,0.315,
  0.315,0.312,0.318]

const jBlue = [0.074,0.079,0.071,0.064,0.063,0.079,0.085,0.06,0.084,0.063,
  0.055,0.078,0.064,0.058,0.046,0.07,0.058,0.059,0.061,0.07,
  0.065,0.058,0.071,0.067,0.072,0.076,0.071,0.077,0.089,0.094,
  0.078,0.082,0.077,0.088,0.096,0.094,0.098,0.102,0.096,0.087,
  0.099,0.09,0.094,0.105,0.105,0.106,0.103,0.08,0.093,0.106,
  0.103,0.098,0.107,0.097,0.083,0.108,0.096,0.104,0.112,0.119,
  0.112,0.102,0.096,0.119,0.103,0.088,0.126,0.132,0.13,0.123,
  0.133,0.145,0.146,0.162,0.15,0.17,0.177,0.178,0.18,0.175,
  0.17,0.19,0.183,0.183,0.186,0.18,0.166,0.177,0.181,0.185,
  0.183,0.198,0.185,0.18,0.168,0.178,0.18,0.183,0.195,0.193,
  0.19,0.16,0.193]
const jOrange = [0.11,0.124,0.12,0.113,0.12,0.122,0.128,0.124,0.13,0.121,
  0.112,0.123,0.115,0.122,0.109,0.136,0.138,0.116,0.13,0.131,
  0.118,0.13,0.14,0.127,0.142,0.143,0.141,0.13,0.155,0.151,
  0.14,0.155,0.147,0.146,0.156,0.162,0.15,0.163,0.171,0.149,
  0.167,0.148,0.156,0.153,0.16,0.166,0.165,0.143,0.158,0.16,
  0.171,0.166,0.169,0.161,0.149,0.165,0.16,0.174,0.172,0.179,
  0.163,0.161,0.17,0.184,0.167,0.154,0.182,0.194,0.19,0.186,
  0.196,0.196,0.201,0.202,0.19,0.216,0.223,0.229,0.227,0.217,
  0.217,0.232,0.227,0.223,0.233,0.225,0.211,0.226,0.222,0.231,
  0.224,0.234,0.229,0.22,0.21,0.22,0.226,0.22,0.234,0.232,
  0.227,0.208,0.236]
const jGreen = [0.148,0.167,0.164,0.164,0.163,0.18,0.168,0.186,0.178,0.171,
  0.17,0.168,0.167,0.185,0.175,0.205,0.22,0.171,0.202,0.171,
  0.2,0.206,0.207,0.188,0.209,0.212,0.21,0.184,0.222,0.216,
  0.206,0.229,0.217,0.207,0.221,0.23,0.204,0.225,0.239,0.212,
  0.233,0.209,0.215,0.199,0.226,0.225,0.226,0.208,0.228,0.215,
  0.234,0.236,0.234,0.227,0.216,0.22,0.229,0.245,0.238,0.237,
  0.221,0.228,0.243,0.249,0.223,0.221,0.24,0.256,0.248,0.246,
  0.254,0.25,0.257,0.245,0.232,0.262,0.274,0.28,0.272,0.261,
  0.261,0.274,0.27,0.266,0.28,0.271,0.259,0.274,0.27,0.275,
  0.266,0.274,0.27,0.255,0.252,0.266,0.268,0.26,0.273,0.267,
  0.264,0.257,0.277]

// ---- row 3 ----
const kBlue = [-0.1,-0.075,-0.025,-0.005,-0.015,-0.01,-0.005,-0.01,-0.02,-0.025,
  -0.03,-0.02,0.015,0.015,0.0,-0.02,-0.04,-0.055,-0.062,-0.068,
  -0.07,-0.07,-0.06,0.04,0.19,0.36,0.44,0.24,0.44,0.48,
  0.45,0.40,0.34,0.39,0.40,0.39,0.39,0.37,0.30,0.24,
  0.22,0.09,0.04,0.035,0.055,0.11,0.18,0.23,0.235,0.235,
  0.24,0.23,0.215,0.19,0.04,-0.065,-0.05,-0.025,0.035,0.04,
  0.04,0.05,0.06,0.05,0.025,0.035,0.04,0.015,0.035,0.03,
  -0.005,-0.055,-0.105,-0.128,-0.128,-0.122,-0.12,-0.112,-0.102,-0.097,
  -0.092,-0.089,-0.087,-0.087,-0.089,-0.092,-0.102,-0.112,-0.122,-0.13,
  -0.127,-0.127,-0.124,-0.122,-0.12,-0.119,-0.118,-0.118,-0.119,-0.12,
  -0.122,-0.124,-0.126,-0.127,-0.129,-0.13,-0.13,-0.131,-0.132]
const kOrange = [-0.095,-0.07,-0.02,0.0,-0.01,-0.005,0.0,0.0,-0.01,-0.015,
  -0.02,-0.01,0.02,0.02,0.01,-0.01,-0.025,-0.04,-0.05,-0.055,
  -0.06,-0.06,-0.05,0.05,0.2,0.38,0.47,0.30,0.48,0.52,
  0.49,0.44,0.38,0.43,0.43,0.42,0.42,0.40,0.33,0.27,
  0.24,0.1,0.05,0.045,0.06,0.12,0.19,0.24,0.245,0.25,
  0.253,0.245,0.23,0.20,0.05,-0.06,-0.045,-0.02,0.04,0.045,
  0.045,0.055,0.065,0.055,0.03,0.04,0.045,0.02,0.04,0.035,
  0.0,-0.05,-0.1,-0.125,-0.125,-0.12,-0.118,-0.11,-0.1,-0.095,
  -0.09,-0.087,-0.085,-0.085,-0.087,-0.09,-0.1,-0.11,-0.12,-0.128,
  -0.125,-0.125,-0.122,-0.12,-0.118,-0.117,-0.116,-0.116,-0.117,-0.118,
  -0.12,-0.122,-0.124,-0.125,-0.127,-0.128,-0.128,-0.129,-0.13]
const kGreen = [-0.09,-0.065,-0.015,0.005,-0.005,0.0,0.005,0.003,-0.005,-0.01,
  -0.015,0.0,0.03,0.025,0.015,-0.005,-0.015,-0.03,-0.04,-0.045,
  -0.05,-0.05,-0.04,0.06,0.21,0.40,0.52,0.35,0.53,0.565,
  0.53,0.47,0.42,0.47,0.46,0.45,0.44,0.42,0.35,0.29,
  0.26,0.11,0.055,0.05,0.065,0.13,0.2,0.255,0.265,0.27,
  0.27,0.26,0.24,0.21,0.055,-0.055,-0.04,-0.015,0.045,0.05,
  0.05,0.06,0.07,0.06,0.035,0.045,0.05,0.025,0.045,0.04,
  0.005,-0.045,-0.095,-0.122,-0.122,-0.118,-0.116,-0.108,-0.098,-0.093,
  -0.088,-0.085,-0.083,-0.083,-0.085,-0.088,-0.098,-0.108,-0.118,-0.126,
  -0.123,-0.123,-0.12,-0.118,-0.116,-0.115,-0.114,-0.114,-0.115,-0.116,
  -0.118,-0.12,-0.122,-0.123,-0.125,-0.126,-0.126,-0.127,-0.128]

const lBlue = [-0.092,-0.072,-0.032,-0.012,-0.012,-0.017,0.003,-0.007,-0.022,-0.027,
  -0.022,-0.002,0.018,0.013,0.008,-0.032,-0.042,-0.052,-0.062,-0.077,
  -0.072,-0.077,-0.062,-0.003,0.195,0.445,0.535,0.285,0.515,0.565,
  0.535,0.495,0.455,0.405,0.435,0.475,0.45,0.435,0.355,0.325,
  0.275,0.265,0.057,0.052,0.067,0.117,0.197,0.257,0.262,0.267,
  0.272,0.257,0.237,0.197,0.117,-0.003,-0.058,-0.043,-0.023,0.017,
  0.047,0.047,0.052,0.067,0.047,0.027,0.047,0.022,0.042,0.037,
  -0.003,-0.043,-0.093,-0.128,-0.123,-0.123,-0.121,-0.113,-0.103,-0.098,
  -0.093,-0.093,-0.088,-0.091,-0.095,-0.103,-0.103,-0.118,-0.128,-0.123,
  -0.125,-0.123,-0.126,-0.118,-0.123,-0.121,-0.123,-0.123,-0.128,-0.123,
  -0.128,-0.125,-0.13,-0.128,-0.133,-0.125,-0.131,-0.128,-0.132]
const lOrange = [-0.09,-0.07,-0.03,-0.01,-0.01,-0.015,0.005,-0.005,-0.02,-0.025,
  -0.02,0.0,0.02,0.015,0.01,-0.03,-0.04,-0.05,-0.06,-0.075,
  -0.07,-0.075,-0.06,0.0,0.2,0.45,0.54,0.28,0.52,0.57,
  0.54,0.50,0.46,0.41,0.44,0.48,0.455,0.44,0.36,0.33,
  0.28,0.27,0.06,0.055,0.07,0.12,0.2,0.26,0.265,0.27,
  0.275,0.26,0.24,0.2,0.12,0.0,-0.055,-0.04,-0.02,0.02,
  0.05,0.05,0.055,0.07,0.05,0.03,0.05,0.025,0.045,0.04,
  0.0,-0.04,-0.09,-0.125,-0.12,-0.12,-0.118,-0.11,-0.1,-0.095,
  -0.09,-0.09,-0.085,-0.088,-0.092,-0.1,-0.1,-0.115,-0.125,-0.12,
  -0.122,-0.12,-0.123,-0.115,-0.12,-0.118,-0.12,-0.12,-0.125,-0.12,
  -0.125,-0.122,-0.127,-0.125,-0.13,-0.122,-0.128,-0.125,-0.13]
const lGreen = [-0.088,-0.068,-0.028,-0.008,-0.008,-0.013,0.007,-0.003,-0.018,-0.023,
  -0.018,0.002,0.022,0.017,0.012,-0.028,-0.038,-0.048,-0.058,-0.073,
  -0.068,-0.073,-0.058,0.003,0.205,0.455,0.545,0.275,0.525,0.572,
  0.545,0.505,0.465,0.415,0.445,0.485,0.46,0.445,0.365,0.335,
  0.285,0.275,0.063,0.058,0.073,0.123,0.203,0.263,0.268,0.273,
  0.278,0.263,0.243,0.203,0.123,0.003,-0.052,-0.037,-0.017,0.023,
  0.053,0.053,0.058,0.073,0.053,0.033,0.053,0.028,0.048,0.043,
  0.003,-0.037,-0.087,-0.122,-0.117,-0.117,-0.115,-0.107,-0.097,-0.092,
  -0.087,-0.087,-0.082,-0.085,-0.089,-0.097,-0.097,-0.112,-0.122,-0.117,
  -0.119,-0.117,-0.12,-0.112,-0.117,-0.115,-0.117,-0.117,-0.122,-0.117,
  -0.122,-0.119,-0.124,-0.122,-0.127,-0.119,-0.125,-0.122,-0.128]

const mBlue = [0.045,0.09,0.12,0.14,0.13,0.14,0.13,0.14,0.14,0.12,
  0.12,0.14,0.16,0.14,0.12,0.11,0.11,0.09,0.08,0.07,
  0.08,0.08,0.11,0.23,0.42,0.56,0.58,0.4,0.58,0.61,
  0.58,0.54,0.46,0.51,0.54,0.53,0.51,0.48,0.37,0.28,
  0.2,0.16,0.15,0.18,0.23,0.28,0.32,0.34,0.35,0.36,
  0.35,0.34,0.31,0.23,0.13,0.07,0.08,0.11,0.15,0.16,
  0.17,0.18,0.19,0.19,0.17,0.16,0.18,0.17,0.16,0.17,
  0.13,0.06,0.01,-0.005,0.0,0.005,0.015,0.02,0.025,0.03,
  0.038,0.043,0.043,0.038,0.033,0.028,0.023,0.018,0.013,0.008,
  0.013,0.008,0.013,0.008,0.013,0.003,0.008,0.013,0.003,0.008,
  0.003,0.008,0.003,-0.002,0.003,-0.002,0.003,-0.002,-0.005]
const mOrange = [0.05,0.1,0.13,0.15,0.14,0.15,0.14,0.15,0.15,0.13,
  0.13,0.15,0.17,0.15,0.13,0.12,0.12,0.1,0.09,0.08,
  0.09,0.09,0.12,0.25,0.45,0.6,0.62,0.45,0.62,0.65,
  0.62,0.58,0.5,0.55,0.58,0.57,0.55,0.52,0.4,0.3,
  0.22,0.18,0.17,0.2,0.25,0.3,0.34,0.36,0.37,0.38,
  0.37,0.36,0.33,0.25,0.15,0.08,0.09,0.12,0.16,0.17,
  0.18,0.19,0.2,0.2,0.18,0.17,0.19,0.18,0.17,0.18,
  0.14,0.07,0.02,0.0,0.005,0.01,0.02,0.025,0.03,0.035,
  0.045,0.05,0.05,0.045,0.04,0.035,0.03,0.025,0.02,0.015,
  0.02,0.015,0.02,0.015,0.02,0.01,0.015,0.02,0.01,0.015,
  0.01,0.015,0.01,0.005,0.01,0.005,0.01,0.005,0.0]
const mGreen = [0.055,0.11,0.14,0.16,0.15,0.16,0.15,0.16,0.16,0.14,
  0.14,0.16,0.18,0.16,0.14,0.13,0.13,0.11,0.1,0.09,
  0.1,0.1,0.13,0.27,0.48,0.64,0.66,0.5,0.66,0.69,
  0.66,0.62,0.54,0.59,0.62,0.61,0.59,0.56,0.43,0.32,
  0.24,0.2,0.19,0.22,0.27,0.32,0.36,0.38,0.39,0.4,
  0.39,0.38,0.35,0.27,0.17,0.09,0.1,0.13,0.17,0.18,
  0.19,0.2,0.21,0.21,0.19,0.18,0.2,0.19,0.18,0.19,
  0.15,0.08,0.03,0.008,0.012,0.017,0.027,0.032,0.037,0.042,
  0.052,0.057,0.057,0.052,0.047,0.042,0.037,0.032,0.027,0.022,
  0.027,0.022,0.027,0.022,0.027,0.017,0.022,0.027,0.017,0.022,
  0.017,0.022,0.017,0.012,0.017,0.012,0.017,0.012,0.008]

const nBlue = [0.035,0.08,0.11,0.13,0.12,0.13,0.13,0.12,0.13,0.12,
  0.11,0.11,0.12,0.11,0.1,0.1,0.12,0.14,0.12,0.1,
  0.11,0.13,0.14,0.18,0.24,0.28,0.31,0.25,0.3,0.32,
  0.31,0.29,0.24,0.28,0.3,0.3,0.29,0.28,0.22,0.16,
  0.12,0.1,0.09,0.1,0.12,0.16,0.2,0.22,0.24,0.24,
  0.23,0.22,0.2,0.15,0.09,0.05,0.07,0.1,0.12,0.13,
  0.14,0.15,0.16,0.16,0.14,0.13,0.15,0.13,0.13,0.12,
  0.09,0.04,0.005,-0.002,0.0,0.005,0.01,0.018,0.025,0.03,
  0.035,0.035,0.03,0.025,0.022,0.018,0.015,0.015,0.012,0.012,
  0.012,0.012,0.012,0.012,0.012,0.01,0.01,0.008,0.008,0.008,
  0.006,0.006,0.005,0.005,0.004,0.004,0.003,0.002,0.001]
const nOrange = [0.04,0.1,0.15,0.17,0.16,0.17,0.18,0.17,0.18,0.17,
  0.16,0.16,0.17,0.16,0.15,0.15,0.17,0.2,0.18,0.16,
  0.17,0.19,0.2,0.28,0.38,0.45,0.5,0.38,0.5,0.52,
  0.5,0.46,0.36,0.44,0.48,0.48,0.47,0.45,0.35,0.25,
  0.18,0.15,0.13,0.14,0.18,0.24,0.3,0.33,0.35,0.35,
  0.34,0.33,0.3,0.22,0.12,0.07,0.09,0.13,0.16,0.17,
  0.18,0.19,0.2,0.2,0.18,0.17,0.19,0.17,0.17,0.16,
  0.12,0.06,0.02,0.01,0.01,0.015,0.02,0.03,0.04,0.045,
  0.05,0.05,0.045,0.04,0.035,0.03,0.025,0.025,0.02,0.02,
  0.02,0.02,0.02,0.02,0.02,0.018,0.018,0.015,0.015,0.015,
  0.012,0.012,0.01,0.01,0.008,0.008,0.006,0.005,0.004]
const nGreen = [0.045,0.12,0.18,0.21,0.2,0.21,0.22,0.21,0.22,0.21,
  0.2,0.2,0.21,0.2,0.19,0.19,0.21,0.25,0.23,0.2,
  0.21,0.24,0.25,0.36,0.5,0.62,0.7,0.52,0.72,0.76,
  0.72,0.65,0.5,0.6,0.65,0.65,0.63,0.6,0.47,0.33,
  0.24,0.2,0.17,0.18,0.23,0.31,0.38,0.42,0.44,0.45,
  0.44,0.42,0.39,0.28,0.15,0.09,0.11,0.16,0.2,0.21,
  0.22,0.23,0.24,0.24,0.22,0.21,0.23,0.21,0.21,0.2,
  0.15,0.08,0.035,0.02,0.02,0.025,0.03,0.04,0.052,0.058,
  0.065,0.065,0.06,0.055,0.05,0.045,0.038,0.036,0.03,0.03,
  0.03,0.03,0.03,0.028,0.028,0.026,0.026,0.022,0.022,0.022,
  0.02,0.018,0.016,0.016,0.014,0.013,0.011,0.01,0.008]

const oBlue = [0.045,0.08,0.1,0.12,0.11,0.12,0.11,0.12,0.13,0.11,
  0.11,0.12,0.14,0.12,0.11,0.09,0.1,0.07,0.06,0.05,
  0.06,0.07,0.1,0.2,0.39,0.52,0.56,0.38,0.56,0.58,
  0.56,0.52,0.44,0.5,0.52,0.51,0.49,0.46,0.35,0.26,
  0.18,0.15,0.14,0.18,0.23,0.28,0.34,0.36,0.37,0.38,
  0.37,0.35,0.31,0.2,0.1,0.06,0.07,0.11,0.16,0.17,
  0.18,0.19,0.19,0.2,0.18,0.17,0.19,0.17,0.16,0.16,
  0.11,0.05,0.0,-0.01,0.0,0.005,0.01,0.02,0.025,0.03,
  0.035,0.04,0.03,0.025,0.02,0.01,0.005,0.0,0.005,0.01,
  0.005,0.0,0.01,0.0,0.005,0.0,0.005,0.0,0.0,0.005,
  0.0,0.0,-0.005,0.0,-0.005,-0.002,-0.005,-0.004,-0.008]
const oOrange = [0.05,0.09,0.11,0.13,0.12,0.13,0.12,0.13,0.14,0.12,
  0.12,0.13,0.15,0.13,0.12,0.1,0.11,0.08,0.07,0.06,
  0.07,0.08,0.11,0.22,0.42,0.56,0.6,0.42,0.6,0.62,
  0.6,0.56,0.48,0.54,0.56,0.55,0.53,0.5,0.38,0.28,
  0.2,0.17,0.16,0.2,0.25,0.3,0.36,0.38,0.39,0.4,
  0.39,0.37,0.33,0.22,0.12,0.07,0.08,0.12,0.17,0.18,
  0.19,0.2,0.2,0.21,0.19,0.18,0.2,0.18,0.17,0.17,
  0.12,0.06,0.01,0.0,0.01,0.015,0.02,0.03,0.035,0.04,
  0.045,0.05,0.04,0.035,0.03,0.02,0.015,0.01,0.015,0.02,
  0.015,0.01,0.02,0.01,0.015,0.01,0.015,0.01,0.01,0.015,
  0.01,0.01,0.005,0.01,0.005,0.008,0.005,0.006,0.0]
const oGreen = [0.055,0.1,0.12,0.14,0.13,0.14,0.13,0.14,0.15,0.13,
  0.13,0.14,0.16,0.14,0.13,0.11,0.12,0.09,0.08,0.07,
  0.08,0.09,0.12,0.24,0.45,0.6,0.64,0.46,0.64,0.66,
  0.64,0.6,0.52,0.58,0.6,0.59,0.57,0.54,0.41,0.3,
  0.22,0.19,0.18,0.22,0.27,0.32,0.38,0.4,0.41,0.42,
  0.41,0.39,0.35,0.24,0.14,0.08,0.09,0.13,0.18,0.19,
  0.2,0.21,0.21,0.22,0.2,0.19,0.21,0.19,0.18,0.18,
  0.13,0.07,0.02,0.01,0.02,0.025,0.03,0.04,0.045,0.05,
  0.055,0.06,0.05,0.045,0.04,0.03,0.025,0.02,0.025,0.03,
  0.025,0.02,0.03,0.02,0.025,0.02,0.025,0.02,0.02,0.025,
  0.02,0.02,0.015,0.02,0.015,0.018,0.015,0.016,0.01]

// ---- ticks and captions ----
const xTicksLong = [0, 25, 50, 75, 100, 125, 150, 175, 200]
const xTicksShort = [0, 20, 40, 60, 80, 100]
const yTicks = {
  a: [-0.2,-0.1,0.0,0.1,0.2,0.3,0.4], b: [-0.2,-0.1,0.0,0.1,0.2,0.3],
  c: [0.0,0.1,0.2,0.3,0.4,0.5,0.6], d: [0.0,0.1,0.2,0.3,0.4,0.5],
  e: [0.0,0.1,0.2,0.3,0.4,0.5,0.6],
  f: [-0.10,-0.05,0.00,0.05,0.10,0.15], g: [-0.15,-0.10,-0.05,0.00,0.05,0.10,0.15],
  h: [0.05,0.10,0.15,0.20,0.25,0.30,0.35], i: [0.05,0.10,0.15,0.20,0.25,0.30],
  j: [0.05,0.10,0.15,0.20,0.25],
  k: [-0.1,0.0,0.1,0.2,0.3,0.4,0.5,0.6], l: [-0.1,0.0,0.1,0.2,0.3,0.4,0.5,0.6],
  m: [0.0,0.1,0.2,0.3,0.4,0.5,0.6,0.7], n: [0.0,0.1,0.2,0.3,0.4,0.5,0.6,0.7,0.8],
  o: [0.0,0.1,0.2,0.3,0.4,0.5,0.6]
}
const captionLine1 = ['Ground', 'Proposed', 'without', 'without', 'without more']
const captionLine2 = ['Truth', 'Method', 'self-attention', 'wgan-gp', 'virtual samples']

const panels = [
  { id: 'a', xs: row1X, s: [aBlue, aOrange, aGreen], y: [-0.220, 0.430] },
  { id: 'b', xs: row1X, s: [bBlue, bOrange, bGreen], y: [-0.2245, 0.3396] },
  { id: 'c', xs: row1X, s: [cBlue, cOrange, cGreen], y: [-0.0408, 0.605] },
  { id: 'd', xs: row1X, s: [dBlue, dOrange, dGreen], y: [-0.029, 0.599] },
  { id: 'e', xs: row1X, s: [eBlue, eOrange, eGreen], y: [-0.034, 0.6255] },
  { id: 'f', xs: row2X, s: [fBlue, fOrange, fGreen], y: [-0.1436, 0.185] },
  { id: 'g', xs: row2X, s: [gBlue, gOrange, gGreen], y: [-0.150, 0.1575] },
  { id: 'h', xs: row2X, s: [hBlue, hOrange, hGreen], y: [0.0333, 0.3638] },
  { id: 'i', xs: row2X, s: [iBlue, iOrange, iGreen], y: [0.0415, 0.341] },
  { id: 'j', xs: row2X, s: [jBlue, jOrange, jGreen], y: [0.0338, 0.2912] },
  { id: 'k', xs: row3X, s: [kBlue, kOrange, kGreen], y: [-0.1647, 0.602] },
  { id: 'l', xs: row3X, s: [lBlue, lOrange, lGreen], y: [-0.1677, 0.6059] },
  { id: 'm', xs: row3X, s: [mBlue, mOrange, mGreen], y: [-0.043, 0.726] },
  { id: 'n', xs: row3X, s: [nBlue, nOrange, nGreen], y: [-0.035, 0.805] },
  { id: 'o', xs: row3X, s: [oBlue, oOrange, oGreen], y: [-0.046, 0.70] }
]

// ---- layout ----
const W = 3976, H = 2584
const colLeft = [91, 897, 1703, 2508, 3314]
const rowTop = [50, 911, 1773]
const boxW = 612, boxH = 455
const xDomains = [[-9.95, 208.95], [-5.1, 107.1], [-10.15, 213.15]]
const colors = ['#1f77b4', '#ff7f0e', '#2ca02c']

const svg = d3.select('#fig')
  .attr('width', W)
  .attr('height', H)
  .attr('viewBox', `0 0 ${W} ${H}`)

svg.append('rect').attr('width', W).attr('height', H).attr('fill', '#fff')

panels.forEach((p, i) => {
  const col = i % 5, row = Math.floor(i / 5)
  const g = svg.append('g').attr('transform', `translate(${colLeft[col]},${rowTop[row]})`)

  const x = d3.scaleLinear().domain(xDomains[row]).range([0, boxW])
  const y = d3.scaleLinear().domain(p.y).range([boxH, 0])

  const xAxis = d3.axisBottom(x)
    .tickValues(row === 1 ? xTicksShort : xTicksLong)
    .tickFormat(d3.format('d'))
    .tickSize(6).tickPadding(6)
  const yAxis = d3.axisLeft(y)
    .tickValues(yTicks[p.id])
    .tickFormat(d3.format(row === 1 ? '.2f' : '.1f'))
    .tickSize(6).tickPadding(6)

  const gx = g.append('g').attr('transform', `translate(0,${boxH})`).call(xAxis)
  const gy = g.append('g').call(yAxis)
  ;[gx, gy].forEach(a => {
    a.select('.domain').remove()
    a.selectAll('.tick line').attr('stroke', '#000').attr('stroke-width', 1.4)
    a.selectAll('.tick text')
      .attr('font-family', 'DejaVu Sans, sans-serif')
      .attr('font-size', 17)
      .attr('fill', '#000')
  })

  // series: blue dotted, orange solid, green dotted
  p.s.forEach((vals, k) => {
    const line = d3.line()
      .defined((d, j) => d != null && p.xs[j] != null)
      .x((d, j) => x(p.xs[j]))
      .y(d => y(d))
    g.append('path')
      .datum(vals)
      .attr('d', line)
      .attr('fill', 'none')
      .attr('stroke', colors[k])
      .attr('stroke-width', 2.8)
      .attr('stroke-linejoin', 'round')
      .attr('stroke-dasharray', k === 1 ? null : '2.8,4.6')
  })

  g.append('rect')
    .attr('width', boxW).attr('height', boxH)
    .attr('fill', 'none').attr('stroke', '#000').attr('stroke-width', 1.6)

  // caption
  const cx = boxW / 2 - 8
  const cap = g.append('text')
    .attr('x', cx).attr('y', 646)
    .attr('text-anchor', 'middle')
    .attr('font-family', '"Palatino Linotype", "Book Antiqua", Palatino, "Liberation Serif", serif')
    .attr('font-size', 80)
  cap.append('tspan').text('(')
  cap.append('tspan').attr('font-weight', 'bold').text(p.id)
  cap.append('tspan').text(') ' + captionLine1[col])
  g.append('text')
    .attr('x', cx).attr('y', 753)
    .attr('text-anchor', 'middle')
    .attr('font-family', '"Palatino Linotype", "Book Antiqua", Palatino, "Liberation Serif", serif')
    .attr('font-size', 80)
    .text(captionLine2[col])
})
</script>
</body>
</html>
